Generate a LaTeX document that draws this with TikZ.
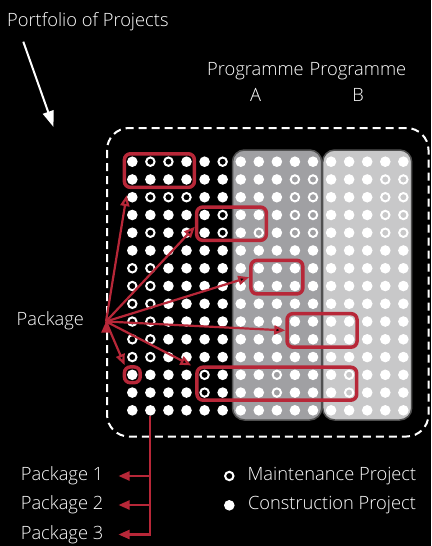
\documentclass[tikz,border=0pt]{standalone}
\usepackage{fontspec}
\setmainfont{Open Sans Light}
\usetikzlibrary{positioning,fit,arrows.meta}
\definecolor{pkgred}{RGB}{183,39,56}
\definecolor{progA}{RGB}{160,160,163}
\definecolor{progB}{RGB}{200,200,201}
\definecolor{progEdge}{RGB}{80,80,80}

\begin{document}
\begin{tikzpicture}[x=1pt,y=-1pt,
    lbl/.style={text=white,font=\fontsize{18.3}{25.7}\selectfont,inner sep=0pt},
    cdot/.style={circle,fill=white,minimum size=10.6pt,inner sep=0pt},
    mdot/.style={circle,draw=white,line width=2pt,minimum size=8.4pt,inner sep=0pt},
    pkgbox/.style={draw=pkgred,line width=3.5pt,rounded corners=6pt,inner sep=2.4pt},
    prog/.style={draw=progEdge,line width=1.5pt,rounded corners=12pt},
    pkgarrow/.style={draw=pkgred,line width=2.2pt,-{Triangle[length=11pt,width=9pt]}}]
  \path[use as bounding box,fill=black] (0,0) rectangle (431,546);

  % portfolio frame and programmes
  \draw[white,line width=2pt,dash pattern=on 8pt off 5pt,rounded corners=22pt]
    (107,128) rectangle (428.5,436.5);
  \draw[prog,fill=progA] (232.5,150) rectangle (321.7,420);
  \draw[prog,fill=progB] (322.7,150) rectangle (411.7,420);
  \node[lbl,align=center] (progA) at (255.5,82) {Programme\\A};
  \node[lbl,align=center] (progB) at (358,82) {Programme\\B};

  % projects (open = maintenance)
  \foreach \p in {0-1,0-2,0-5,1-9,1-10,1-14,1-15,2-1,2-2,2-3,2-9,2-10,2-14,2-15,
      3-5,3-9,3-10,3-14,3-15,4-1,4-5,4-7,4-9,4-10,4-14,4-15,
      6-0,6-1,7-0,7-1,8-0,8-1,9-0,9-1,10-0,10-1,11-0,11-1,
      12-4,12-8,12-12,13-4,13-8,13-12}
    {\expandafter\gdef\csname open\p\endcsname{}}
  \foreach \r in {0,...,14}
    \foreach \c in {0,...,15} {
      \def\kind{cdot}
      \ifcsname open\r-\c\endcsname \def\kind{mdot}\fi
      \node[\kind] (d-\r-\c) at ({132.3+18.07*\c},{161.7+17.76*\r}) {};
    }

  % packages
  \node[pkgbox,fit=(d-0-0)(d-1-3)] (pk-a) {};
  \node[pkgbox,fit=(d-3-4)(d-4-7)] (pk-b) {};
  \node[pkgbox,fit=(d-6-7)(d-7-9)] (pk-c) {};
  \node[pkgbox,fit=(d-9-9)(d-10-12)] (pk-d) {};
  \node[pkgbox,fit=(d-12-0)] (pk-e) {};
  \node[pkgbox,fit=(d-12-4)(d-13-12)] (pk-f) {};

  \node[lbl,anchor=west] (pkg) at (16.5,321) {Package};
  \coordinate (hub) at (106,321.5);
  \path[pkgarrow]
    (hub) edge ([xshift=4pt,yshift=-6pt]pk-a.south west)
          edge ([yshift=-3pt]pk-b.west)
          edge (pk-c.west)
          edge (pk-d.west)
          edge ([xshift=2pt]pk-e.north west)
          edge ([xshift=-4pt]pk-f.north west);

  \node[lbl,anchor=east,inner xsep=15pt] (pk1) at (118.5,476) {Package 1};
  \node[lbl,anchor=east,inner xsep=15pt] (pk2) at (118.5,505) {Package 2};
  \node[lbl,anchor=east,inner xsep=15pt] (pk3) at (118.5,534.5) {Package 3};
  \draw[pkgarrow] (d-14-1.south) |- (pk3.east);
  \draw[pkgarrow] (d-14-1 |- pk1.east) -- (pk1.east);
  \draw[pkgarrow] (d-14-1 |- pk2.east) -- (pk2.east);

  % legend
  \node[mdot] (mleg) at (229.3,476) {};
  \node[cdot] (cleg) at (229.3,505.3) {};
  \node[lbl,right=13pt of mleg] (mtxt) {Maintenance Project};
  \node[lbl,right=13pt of cleg] (ctxt) {Construction Project};

  \node[lbl,anchor=west] (port) at (7,21.5) {Portfolio of Projects};
  \coordinate (pa) at (23.3,41.7);
  \coordinate (pb) at (53.5,127);
  \draw[white,line width=2pt,-{Triangle[length=16pt,width=11pt]}] (pa) -- (pb);
\end{tikzpicture}
\end{document}
